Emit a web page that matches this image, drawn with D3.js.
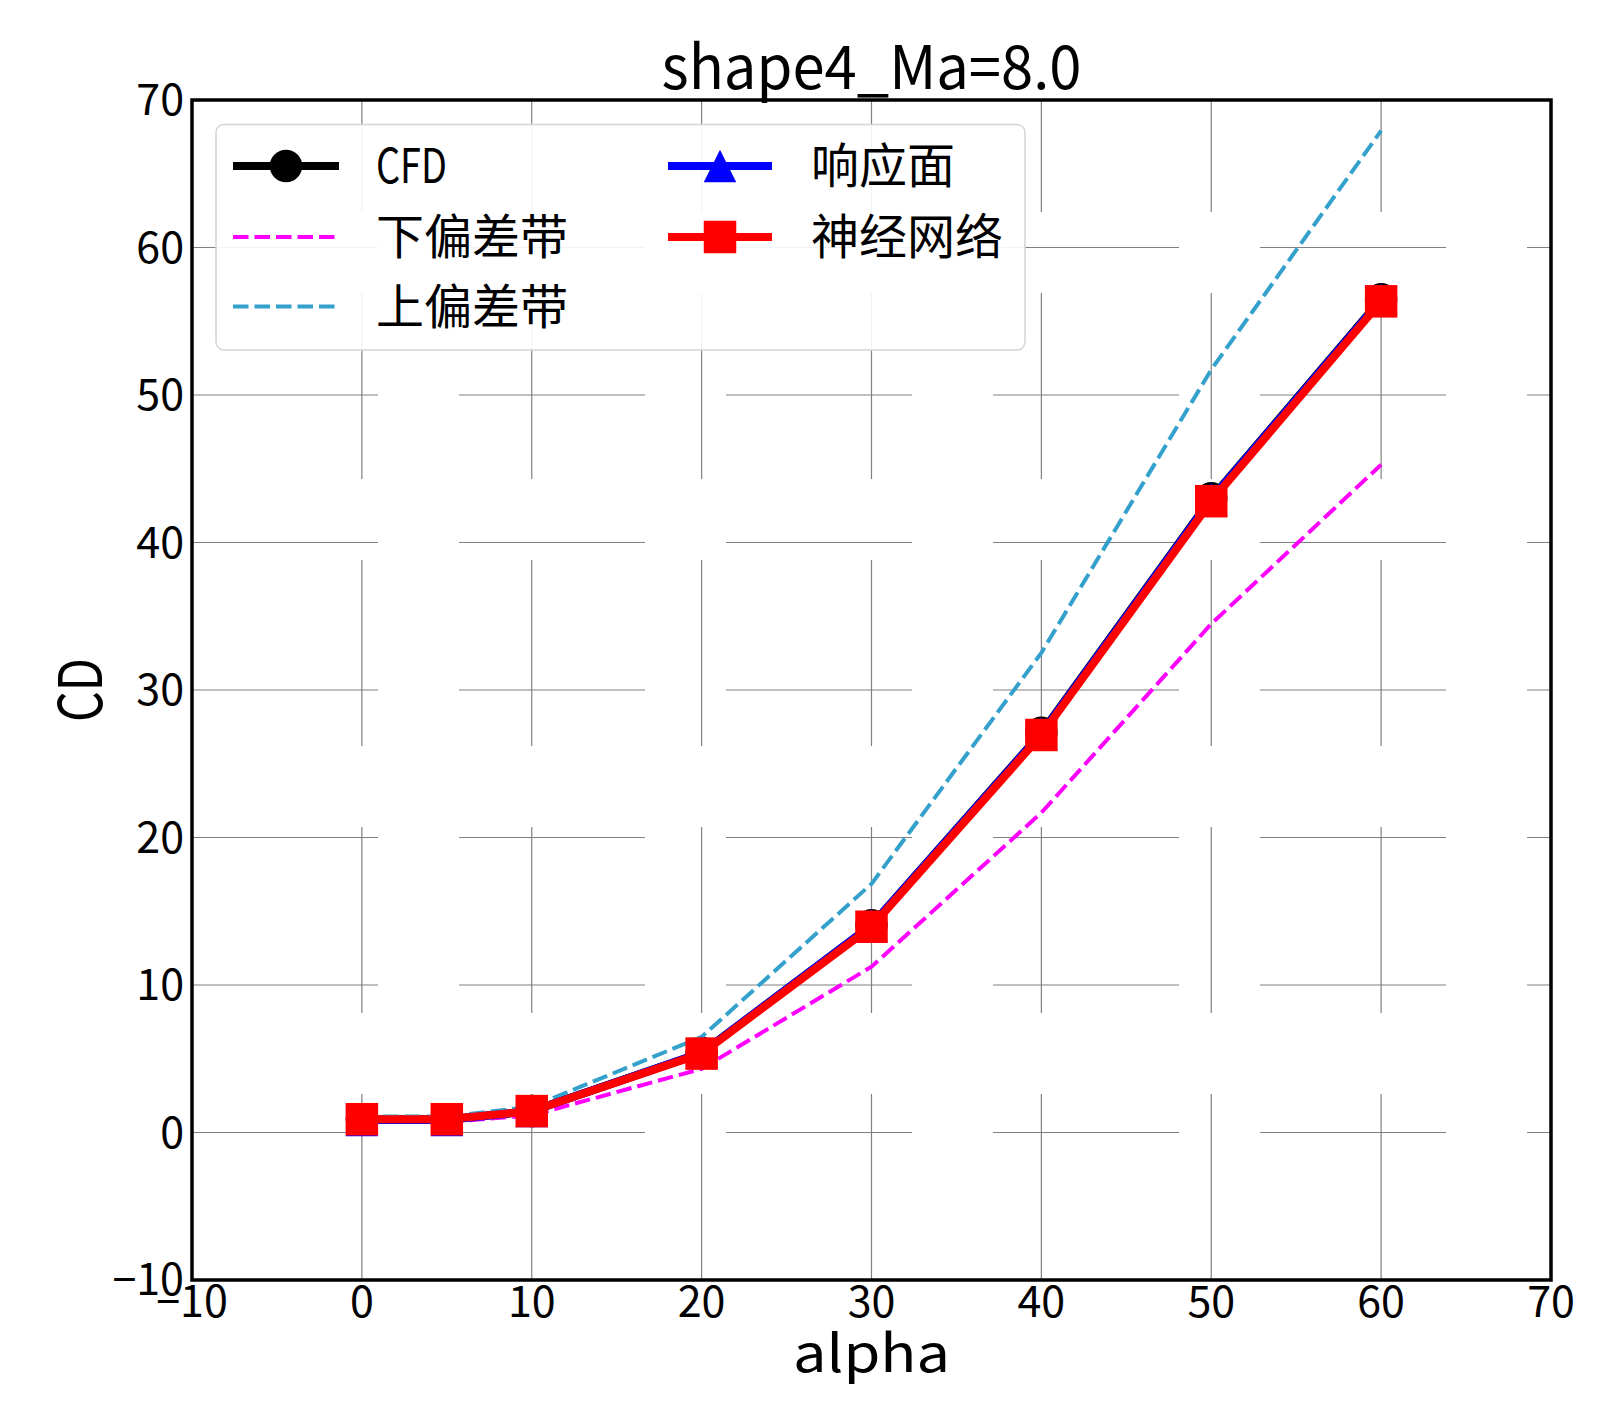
<!DOCTYPE html>
<html>
<head>
<meta charset="utf-8">
<script src="https://cdn.jsdelivr.net/npm/d3@7"></script>
<style>
  body { margin: 0; background: #fff; }
  text { font-family: "Noto Sans CJK SC", "Noto Sans", sans-serif; fill: #000; }
</style>
</head>
<body>
<svg id="chart"></svg>
<script>
// values
const alpha = [0, 5, 10, 20, 30, 40, 50, 60];
const cfd = [0.9, 0.9, 1.45, 5.4, 14.05, 27.1, 43.0, 56.5];
const rsm = [0.85, 0.85, 1.45, 5.4, 14.05, 27.05, 42.95, 56.45];
const nn = [0.9, 0.9, 1.45, 5.35, 13.95, 26.95, 42.8, 56.35];
const upper = [1.08, 1.08, 1.74, 6.48, 16.86, 32.52, 51.72, 67.92];
const lower = [0.72, 0.72, 1.16, 4.32, 11.24, 21.68, 34.48, 45.28];

const xTicks = [-10, 0, 10, 20, 30, 40, 50, 60, 70];
const yTicks = [-10, 0, 10, 20, 30, 40, 50, 60, 70];

const W = 1600, H = 1423;
const plotLeft = 192, plotRight = 1551, plotTop = 100, plotBottom = 1280;

const svg = d3.select('#chart').attr('width', W).attr('height', H);

const x = d3.scaleLinear().domain([-10, 70]).range([plotLeft, plotRight]);
const y = d3.scaleLinear().domain([-10, 70]).range([plotBottom, plotTop]);

// grid (dashed, long dashes like the original)
const grid = svg.append('g').attr('stroke', '#808080').attr('stroke-width', 1.2)
    .attr('stroke-dasharray', '186,81').attr('fill', 'none');
xTicks.forEach(t => {
    grid.append('path').attr('d', `M${x(t)},${plotBottom}V${plotTop}`);
});
yTicks.forEach(t => {
    grid.append('path').attr('d', `M${plotLeft},${y(t)}H${plotRight}`);
});

const series = [
    {name: 'CFD', values: cfd, color: '#000000', width: 8, marker: 'circle'},
    {name: '下偏差带', values: lower, color: '#ff00ff', width: 4, dash: '15.5,6'},
    {name: '上偏差带', values: upper, color: '#34a0cc', width: 4, dash: '15.5,6'},
    {name: '响应面', values: rsm, color: '#0000ff', width: 8, marker: 'triangle'},
    {name: '神经网络', values: nn, color: '#ff0000', width: 8, marker: 'square'}
];

const line = d3.line().x(d => x(d[0])).y(d => y(d[1]));
const ms = 32.5;

function drawMarker(g, type, cx, cy, color) {
    if (type === 'circle') {
        g.append('circle').attr('cx', cx).attr('cy', cy).attr('r', ms / 2).attr('fill', color);
    } else if (type === 'square') {
        g.append('rect').attr('x', cx - ms / 2).attr('y', cy - ms / 2)
            .attr('width', ms).attr('height', ms).attr('fill', color);
    } else if (type === 'triangle') {
        const h = ms / 2;
        g.append('path').attr('d', `M${cx},${cy - h}L${cx + h},${cy + h}L${cx - h},${cy + h}Z`)
            .attr('fill', color);
    }
}

series.forEach(s => {
    const g = svg.append('g');
    g.append('path')
        .attr('d', line(alpha.map((a, i) => [a, s.values[i]])))
        .attr('fill', 'none')
        .attr('stroke', s.color)
        .attr('stroke-width', s.width)
        .attr('stroke-dasharray', s.dash || null);
    if (s.marker) {
        alpha.forEach((a, i) => drawMarker(g, s.marker, x(a), y(s.values[i]), s.color));
    }
});

// frame
svg.append('rect')
    .attr('x', plotLeft).attr('y', plotTop)
    .attr('width', plotRight - plotLeft).attr('height', plotBottom - plotTop)
    .attr('fill', 'none').attr('stroke', '#000').attr('stroke-width', 3.5);

// tick labels
const fmt = v => v < 0 ? '\u2212' + Math.abs(v) : String(v);
svg.append('g').selectAll('text').data(xTicks).join('text')
    .attr('x', d => x(d)).attr('y', 1317)
    .attr('text-anchor', 'middle').attr('font-size', 43)
    .text(fmt);
svg.append('g').selectAll('text').data(yTicks).join('text')
    .attr('x', 184).attr('y', d => y(d))
    .attr('dy', '0.36em')
    .attr('text-anchor', 'end').attr('font-size', 43)
    .text(fmt);

// title and axis labels
svg.append('text').attr('x', (plotLeft + plotRight) / 2).attr('y', 89)
    .attr('text-anchor', 'middle').attr('font-size', 60)
    .attr('textLength', 420).attr('lengthAdjust', 'spacingAndGlyphs')
    .text('shape4_Ma=8.0');
svg.append('text').attr('x', (plotLeft + plotRight) / 2).attr('y', 1372)
    .attr('text-anchor', 'middle').attr('font-size', 52)
    .attr('textLength', 157).attr('lengthAdjust', 'spacingAndGlyphs')
    .text('alpha');
svg.append('text')
    .attr('transform', `translate(102,${(plotTop + plotBottom) / 2}) rotate(-90)`)
    .attr('text-anchor', 'middle').attr('font-size', 60)
    .attr('textLength', 64).attr('lengthAdjust', 'spacingAndGlyphs')
    .text('CD');

// legend, two columns
const legend = svg.append('g');
legend.append('rect')
    .attr('x', 216).attr('y', 124.5).attr('width', 809).attr('height', 225.5)
    .attr('rx', 8).attr('fill', '#fff').attr('fill-opacity', 0.9)
    .attr('stroke', '#d4d4d4').attr('stroke-width', 1.5);

const rows = [166, 237, 306.5];
const cols = [{x0: 233, x1: 339, tx: 376}, {x0: 668, x1: 772, tx: 811}];
const slots = [[0, 0], [0, 1], [0, 2], [1, 0], [1, 1]];

series.forEach((s, i) => {
    const c = cols[slots[i][0]];
    const ry = rows[slots[i][1]];
    const g = legend.append('g');
    g.append('line')
        .attr('x1', c.x0).attr('x2', c.x1).attr('y1', ry).attr('y2', ry)
        .attr('stroke', s.color).attr('stroke-width', s.width)
        .attr('stroke-dasharray', s.dash || null);
    if (s.marker) drawMarker(g, s.marker, (c.x0 + c.x1) / 2, ry, s.color);
    const t = g.append('text').attr('x', c.tx).attr('y', ry).attr('dy', '0.36em')
        .attr('font-size', 48).text(s.name);
    if (s.name === 'CFD') t.attr('textLength', 71).attr('lengthAdjust', 'spacingAndGlyphs');
});
</script>
</body>
</html>
